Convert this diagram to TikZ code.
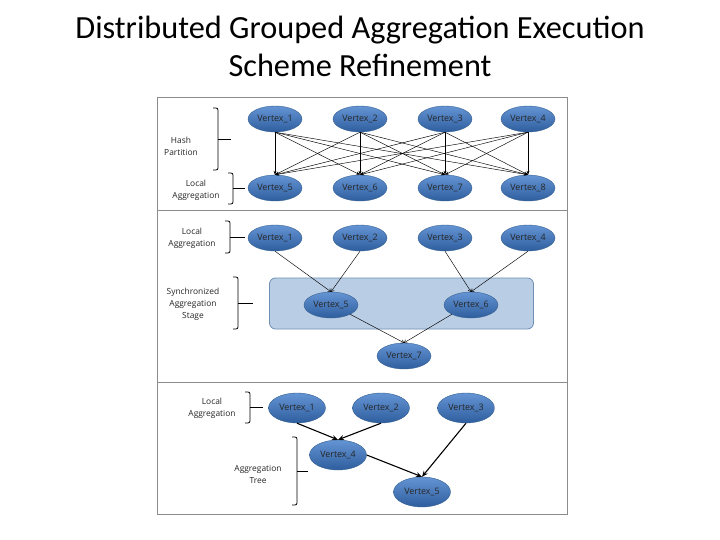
\documentclass[tikz,border=0pt]{standalone}
\usepackage{fontspec}
\setmainfont{Carlito}
\newfontfamily\lblfont{Open Sans}
\usetikzlibrary{shapes.geometric,arrows.meta}
\definecolor{vtop}{HTML}{6494D4}
\definecolor{vbot}{HTML}{2F5E9E}
\definecolor{vedge}{HTML}{35608F}
\definecolor{stagefill}{HTML}{B9CDE5}
\definecolor{stageedge}{HTML}{6F8FB5}
\tikzset{
  vtx/.style={ellipse, draw=vedge, line width=0.4pt, top color=vtop, bottom color=vbot,
    minimum width=54pt, minimum height=26pt, inner sep=0pt,
    font=\lblfont\fontsize{8.9pt}{9pt}\selectfont, text=black!85},
  vtxb/.style={vtx, minimum width=57pt, minimum height=30pt},
  lbl/.style={font=\lblfont\fontsize{8.4pt}{12pt}\selectfont, align=center, text=black!85},
  bracestyle/.style={line width=0.8pt, rounded corners=2pt},
  thinarr/.style={-{Stealth[length=4pt,width=3pt]}, line width=0.45pt},
  midarr/.style={-{To[length=3pt,width=4pt]}, line width=0.45pt},
  thickarr/.style={-{Stealth[length=6pt,width=5pt]}, line width=1.1pt},
  frame/.style={draw=black!45, line width=0.8pt}
}
\newcommand\mybrace[4]{%
  \draw[bracestyle] (#1-5,#2) -- (#1,#2) -- (#1,#3) -- (#1-5,#3);
  \draw[line width=0.8pt] (#1,{(#2+#3)/2}) -- (#4,{(#2+#3)/2});}
\begin{document}
\begin{tikzpicture}[x=1pt,y=-1pt]
\useasboundingbox (0,0) rectangle (720,540);
\fill[white] (0,0) rectangle (720,540);
% title
\node[font=\fontsize{32.3pt}{38pt}\selectfont, align=center] (title) at (360,46)
  {Distributed Grouped Aggregation Execution\\Scheme Refinement};
% frame
\draw[frame] (157,97) rectangle (567,514);
\draw[frame] (157,210) -- (567,210);
\draw[frame] (157,382) -- (567,382);

% ---- section 1
\foreach \i/\x in {1/275,2/360,3/445,4/528} {
  \node[vtx] (a\i) at (\x,119) {Vertex\_\i};
}
\foreach \i/\x in {5/275,6/360,7/445,8/528} {
  \node[vtx] (b\i) at (\x,188) {Vertex\_\i};
}
\foreach \s in {1,2,3,4} {
  \foreach \t in {5,6,7,8} {
    \draw[thinarr] (a\s.south) -- (b\t.north);
  }
}
\node[lbl] (l1) at (181,146) {Hash\\Partition};
\mybrace{218}{108}{170}{231}
\node[lbl] (l2) at (196,190) {Local\\Aggregation};
\mybrace{233}{173}{204}{245}

% ---- section 2
\node[draw=stageedge, fill=stagefill, rounded corners=6pt, line width=0.8pt,
  minimum width=264pt, minimum height=51pt] (stage) at (401.5,303.5) {};
\foreach \i/\x in {1/275,2/360,3/445,4/528} {
  \node[vtx] (c\i) at (\x,238) {Vertex\_\i};
}
\node[vtx] (c5) at (331,305) {Vertex\_5};
\node[vtx] (c6) at (471,305) {Vertex\_6};
\node[vtx] (c7) at (404,356) {Vertex\_7};
\draw[midarr] (c1.south) -- (c5.north);
\draw[midarr] (c2.south) -- (c5.north);
\draw[midarr] (c3.south) -- (c6.north);
\draw[midarr] (c4.south) -- (c6.north);
\draw[midarr] (c5.south east) -- (c7.north);
\draw[midarr] (c6.south west) -- (c7.north);
\node[lbl] (l3) at (192,238) {Local\\Aggregation};
\mybrace{230}{221}{253}{245}
\node[lbl] (l4) at (193,304) {Synchronized\\Aggregation\\Stage};
\mybrace{238}{277}{329}{253}

% ---- section 3
\node[vtxb] (d1) at (297,408) {Vertex\_1};
\node[vtxb] (d2) at (381,408) {Vertex\_2};
\node[vtxb] (d3) at (466,408) {Vertex\_3};
\node[vtxb] (d4) at (338,455) {Vertex\_4};
\node[vtxb] (d5) at (422,492) {Vertex\_5};
\draw[thickarr] (d1.south) -- (d4.north);
\draw[thickarr] (d2.south) -- (d4.north);
\draw[thickarr] (d4.east) -- (d5.north);
\draw[thickarr] (d3.south) -- (d5.north);
\node[lbl] (l5) at (212,408) {Local\\Aggregation};
\mybrace{250}{392}{423}{263}
\node[lbl] (l6) at (258,474) {Aggregation\\Tree};
\mybrace{297}{437}{505}{308}
\end{tikzpicture}
\end{document}
